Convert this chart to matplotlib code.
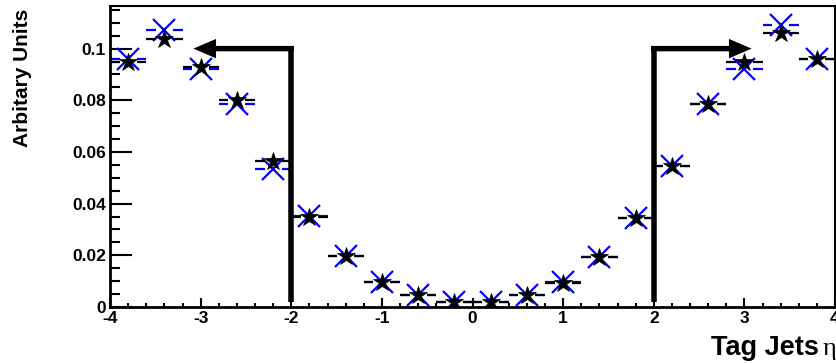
import numpy as np
import matplotlib.pyplot as plt
from matplotlib.ticker import MultipleLocator

plt.rcParams['font.family'] = ['Liberation Sans', 'DejaVu Sans']
plt.rcParams['font.weight'] = 'bold'
plt.rcParams['axes.unicode_minus'] = False

# =========================
# DATA
# =========================
bin_edges = np.linspace(-4.0, 4.0, 21)
black_vals = [0.0950, 0.1037, 0.0928, 0.0803, 0.0565, 0.0350, 0.0197, 0.0097, 0.0047, 0.0019,
              0.0019, 0.0046, 0.0094, 0.0192, 0.0343, 0.0547, 0.0784, 0.0949, 0.1059, 0.0958]
blue_vals = [0.0958, 0.1072, 0.0922, 0.0785, 0.0534, 0.0353, 0.0197, 0.0098, 0.0047, 0.0019,
             0.0019, 0.0046, 0.0095, 0.0193, 0.0345, 0.0547, 0.0784, 0.0920, 0.1091, 0.0958]

cut_eta = [-2.0, 2.0]
arrow_tip = [-3.08, 3.08]
arrow_y = 0.1
arrow_bottom = 0.002

# =========================
# FIGURE
# =========================
fig = plt.figure(figsize=(8.36, 3.63), dpi=100)
ax = fig.add_axes([110/836, 1 - 307/363, (835 - 110)/836, (307 - 6)/363])

centers = 0.5 * (bin_edges[:-1] + bin_edges[1:])
half = 0.5 * np.diff(bin_edges)
gap = 0.095


def draw_hist(vals, color, marker, ms, mew, z):
    vals = np.asarray(vals)
    # x error bars with a gap around the marker (ROOT style)
    ax.hlines(vals, centers - half, centers - gap, color=color, lw=1.6, zorder=z)
    ax.hlines(vals, centers + gap, centers + half, color=color, lw=1.6, zorder=z)
    ax.plot(centers, vals, ls='none', marker=marker, ms=ms, mew=mew,
            color=color, zorder=z + 0.5)


draw_hist(blue_vals, '#0000ff', 'x', 16, 1.6, 2)
draw_hist(black_vals, 'black', '*', 13.5, 0.5, 3)

# cut arrows
lw_px = 5.5
for xc, xt in zip(cut_eta, arrow_tip):
    ax.plot([xc, xc], [arrow_bottom, arrow_y + 0.0011], color='black', lw=lw_px * 0.72,
            solid_capstyle='butt', zorder=4)
    xs = xc - 0.03 * np.sign(xt - xc)
    ax.arrow(xs, arrow_y, xt - xs, 0, width=0.0021, head_width=0.0075, head_length=0.25,
             length_includes_head=True, color='black', lw=0, zorder=4)

ax.set_xlim(-4, 4)
ax.set_ylim(0, 0.1165)

ax.xaxis.set_major_locator(MultipleLocator(1))
ax.xaxis.set_minor_locator(MultipleLocator(0.2))
ax.yaxis.set_major_locator(MultipleLocator(0.02))
ax.yaxis.set_minor_locator(MultipleLocator(0.005))
ax.yaxis.set_major_formatter(plt.FuncFormatter(lambda v, p: '0' if v == 0 else ('%g' % round(v, 3))))

ax.tick_params(axis='both', which='both', direction='in', width=1.5, top=False, right=False,
               labelsize=12.5)
ax.tick_params(axis='y', which='major', length=15.5, pad=3)
ax.tick_params(axis='y', which='minor', length=7)
ax.tick_params(axis='x', which='major', length=6.5, pad=3)
ax.tick_params(axis='x', which='minor', length=3.2)

for side in ['left', 'bottom']:
    ax.spines[side].set_linewidth(2.0)
for side in ['top', 'right']:
    ax.spines[side].set_linewidth(1.5)

fig.text(0.027, 1 - 9/363, 'Arbitary Units', rotation=90, ha='center', va='top',
         fontsize=15, fontweight='bold')
fig.text(819/836, 1 - 348/363, 'Tag Jets', ha='right', va='center', fontsize=19.5,
         fontweight='bold')
fig.text(823/836, 1 - 349/363, 'η', ha='left', va='center', fontsize=19,
         fontweight='normal', family=['Liberation Serif', 'DejaVu Serif'])

fig.savefig('out.png', dpi=100)
